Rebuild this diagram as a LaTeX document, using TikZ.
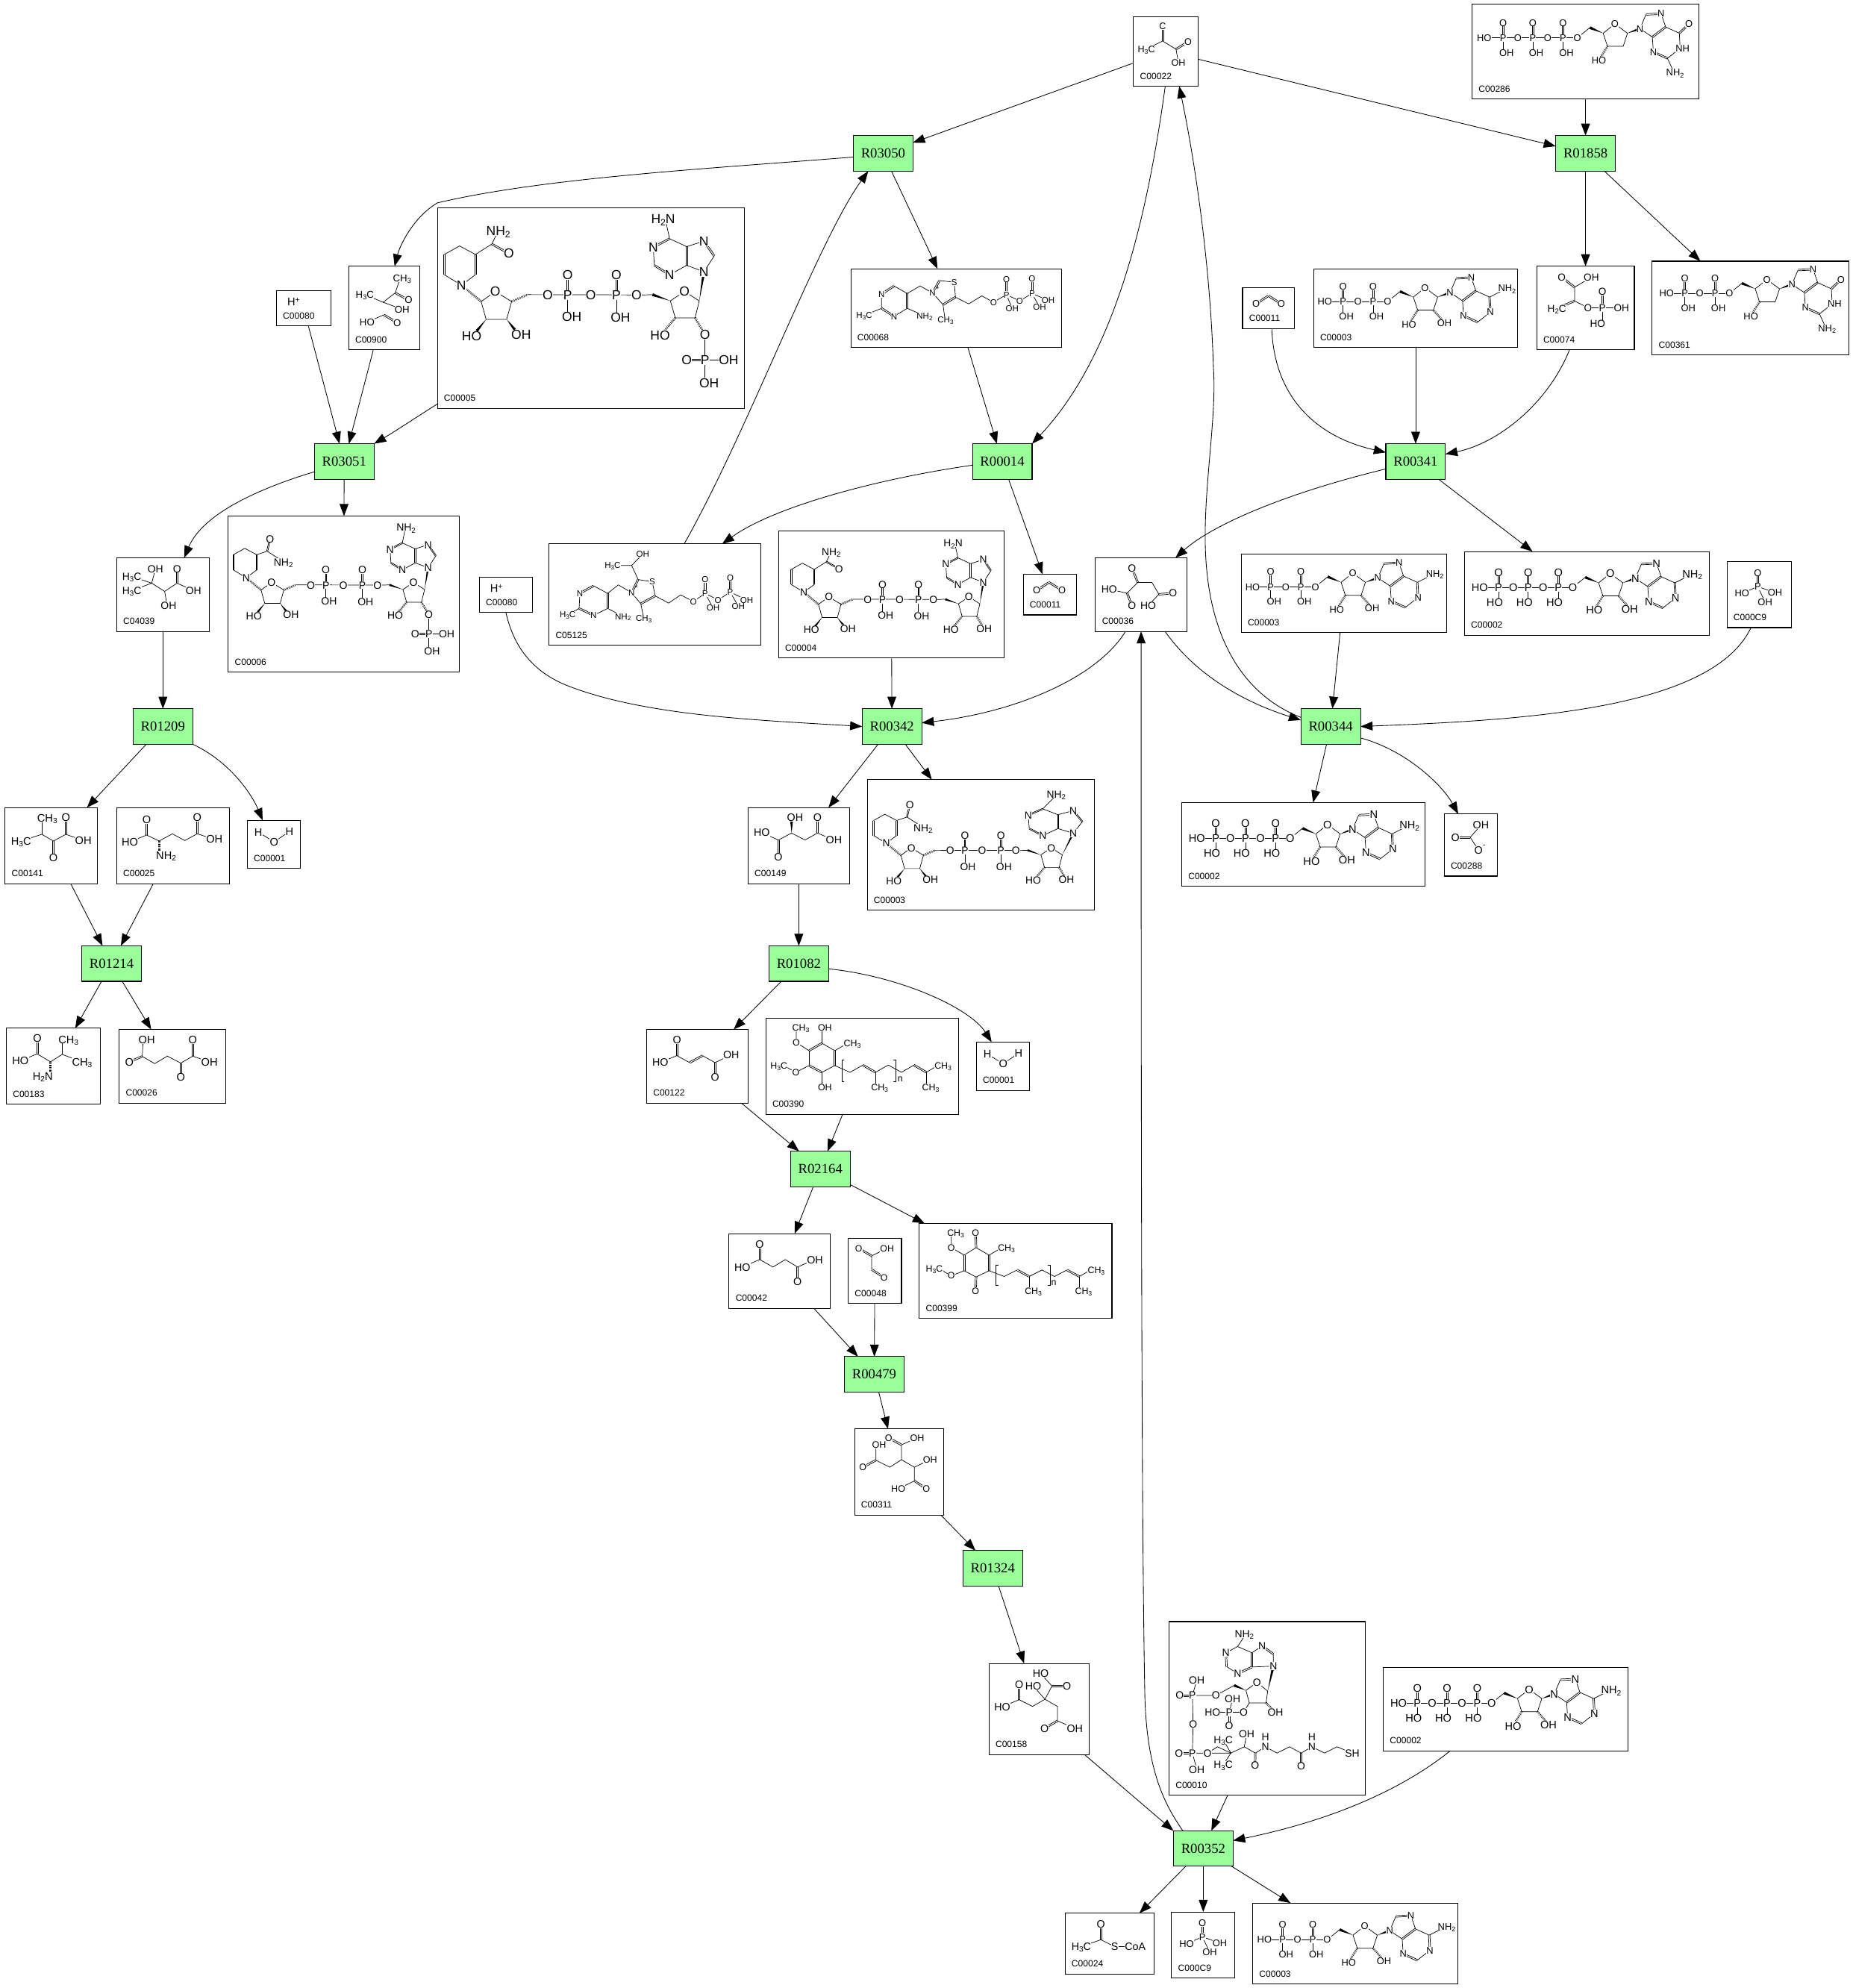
\documentclass[tikz,border=0pt]{standalone}
\usepackage{fontspec}
\usepackage{graphicx}
\setmainfont{Liberation Sans}
\newfontfamily\rxnfont{Liberation Serif}
\usetikzlibrary{arrows.meta}
\definecolor{rxngreen}{RGB}{153,255,153}
\newcount\matmno
\def\afsz{8}
\def\setaf#1{\def\afsz{#1}}
\def\mkx{1}
\def\mky{1}
\newcommand\sbs[1]{\raisebox{-.3ex}{\scalebox{.7}{#1}}}
\newcommand\sps[1]{\raisebox{.55ex}{\scalebox{.7}{#1}}}
\def\matm(#1)#2{\global\advance\matmno by 1 \node[atom] (m\the\matmno) at (#1) {#2};}
\def\moffs#1#2#3#4#5{\pgfmathsetmacro\mdu{(#3-(#1))/\mkx}\pgfmathsetmacro\mdv{(#4-(#2))/\mky}%
 \pgfmathsetmacro\mdl{max(veclen(\mdu,\mdv),.001)}%
 \pgfmathsetmacro\mox{-#5*\mdv/\mdl*\mkx}\pgfmathsetmacro\moy{#5*\mdu/\mdl*\mky}}
\def\mwdg(#1,#2)(#3,#4){\moffs{#1}{#2}{#3}{#4}{1.1}%
 \fill (#1,#2) -- ({#3+\mox},{#4+\moy}) -- ({#3-\mox},{#4-\moy}) -- cycle;}
\def\mhsh(#1)(#2){\draw[line width=1.7pt,dash pattern=on .35pt off .7pt] (#1) -- (#2);}
\def\mdbl(#1,#2)(#3,#4){\moffs{#1}{#2}{#3}{#4}{.6}%
 \draw[bond] ({#1+\mox},{#2+\moy}) -- ({#3+\mox},{#4+\moy});
 \draw[bond] ({#1-\mox},{#2-\moy}) -- ({#3-\mox},{#4-\moy});}
\newcommand\cbox[6]{\node[cpd,minimum width={(#4-#2)*1pt},minimum height={(#5-#3)*1pt}] (#1) at ({(#2+#4)/2},{(#3+#5)/2}) {};
 \node[idlab] (#1id) at ({#2+5},{#5-8}) {#6};}
% ---- nucleoside fragments, O5' at the origin
\def\mRibCore{\draw[bond] (0,0)--(9.8,-8);
 \mwdg(20.3,-3.6)(9.8,-8)
 \draw[bond] (20.3,-3.6)--(29.5,-10.9)--(39.5,-3.6)--(36.1,6.7)--(23.7,6.7)--cycle;
 \mwdg(39.5,-3.6)(49.3,-7.2)}
\def\mRibA{\mRibCore \mhsh(23.7,6.7)(16.9,17.7) \mhsh(36.1,6.7)(44.8,16.6)
 \matm(29.5,-10.9){O} \matm(16.9,18){HO} \matm(44.8,17){OH}}
\def\mRibD{\mRibCore \mhsh(23.7,6.7)(16.9,17.7) \matm(29.5,-10.9){O} \matm(16.9,18){HO}}
\def\mImid{\draw[bond] (49.3,-7.2)--(54.1,-18.4);
 \mdbl(54.1,-18.4)(66,-19)
 \draw[bond] (66,-19)--(69.6,-8.5);
 \draw[bond] (59.1,-.6)--(49.3,-7.2);
 \mdbl(69.6,-8.5)(59.1,-.6)
 \draw[bond] (69.6,-8.5)--(80.4,-3.6);
 \draw[bond] (81,8.3)--(71,16.2);
 \draw[bond] (59.9,11.2)--(59.1,-.6);}
\def\mAde{\mImid
 \draw[bond] (80.4,-3.6)--(94.2,-10.5);
 \mdbl(80.4,-3.6)(81,8.3)
 \mdbl(71,16.2)(59.9,11.2)
 \matm(49.3,-7.2){N} \matm(66,-19){N} \matm(94.2,-10.5){NH\sbs2}
 \matm(81,8.3){N} \matm(59.9,11.2){N}}
\def\mGua{\mImid
 \mdbl(80.4,-3.6)(88,-11)
 \draw[bond] (80.4,-3.6)--(81,8.3);
 \mdbl(71,16.2)(59.9,11.2)
 \draw[bond] (71,16.2)--(76,27);
 \matm(49.3,-7.2){N} \matm(66,-19){N} \matm(88,-11){O}
 \matm(83,8.3){NH} \matm(59.9,11.2){N} \matm(77,27.5){NH\sbs2}}
\def\mPU#1#2#3{\mdbl(#1,0)(#1,-11.9)
 \draw[bond] (#1,0)--(#1,11.7);
 \matm(#1,0){P} \matm(#1,-11.9){O} \matm({#1+#3},11.7){#2}}
\def\mThree#1#2{\draw[bond] (0,0)--(-68,0);
 \mPU{-11.4}{#1}{#2} \matm(-23.4,0){O} \mPU{-35.2}{#1}{#2} \matm(-47,0){O} \mPU{-58.6}{#1}{#2}
 \matm(-73.5,0){HO} \matm(0,0){O}}
\def\mTwo#1#2{\draw[bond] (0,0)--(-45,0);
 \mPU{-11.4}{#1}{#2} \matm(-23.4,0){O} \mPU{-35.2}{#1}{#2}
 \matm(-49.5,0){HO} \matm(0,0){O}}
% ---- NAD family, box-relative
\def\mNADcore{
 \draw[bond] (30,36.7)--(17.4,30)--(5.4,36.7);
 \mdbl(5.4,36.7)(5.4,52.7)
 \draw[bond] (5.4,52.7)--(18.9,60.9)--(30,52.7);
 \mdbl(30,52.7)(30,36.7)
 \mhsh(18.9,60.9)(34.5,73.8)
 \draw[bond] (34.5,73.8)--(45.6,65.9)--(58.5,73.8)--(54.6,87.9)--(38.4,87.9)--cycle;
 \mhsh(58.5,73.8)(71.1,68.4)
 \draw[bond] (71.1,68.4)--(160,68.6);
 \mwdg(38.4,87.9)(31,97)
 \mwdg(54.6,87.9)(61,96)
 \mdbl(102.7,68.8)(102.7,52.7)
 \draw[bond] (102.7,68.8)--(102.7,85.7);
 \mdbl(141.1,68.8)(141.1,52.7)
 \draw[bond] (141.1,68.8)--(141.1,86.2);
 \draw[bond] (157,68.8)--(169.6,68.4);
 \mwdg(183.7,73.3)(169.6,68.4)
 \draw[bond] (183.7,73.3)--(194.8,65.9)--(206.5,73.3)--(203.2,86.7)--(187.6,86.7)--cycle;
 \mhsh(187.6,86.7)(179,97)
 \mhsh(203.2,86.7)(211,99.8)
 \matm(18.9,60.9){N}
 \matm(45.6,65.9){O} \matm(27,101){HO} \matm(66,99.8){OH}
 \matm(87,68.8){O} \matm(102.7,68.8){P} \matm(102.7,52.7){O} \matm(106,85.7){OH}
 \matm(121,68.8){O} \matm(141.1,68.8){P} \matm(141.1,52.7){O} \matm(144.4,86.2){OH}
 \matm(157,68.8){O} \matm(194.8,65.9){O} \matm(175.6,100.3){HO}}
\def\mNADade{
 \mwdg(206.5,73.3)(210.2,50.3)
 \draw[bond] (210.2,50.3)--(218.3,37.9);
 \mdbl(218.3,37.9)(210.2,26.2)
 \draw[bond] (210.2,26.2)--(196.6,30.5);
 \mdbl(196.6,30.5)(196.6,45.3)
 \draw[bond] (196.6,45.3)--(210.2,50.3);
 \draw[bond] (196.6,45.3)--(183.1,52.7);
 \mdbl(183.1,52.7)(171.1,45.3)
 \draw[bond] (171.1,45.3)--(170.2,31);
 \mdbl(170.2,31)(183.1,24.3)
 \draw[bond] (183.1,24.3)--(196.6,30.5);
 \matm(210.2,50.3){N} \matm(210.2,26.2){N} \matm(183.1,52.7){N} \matm(170.2,31){N}}
\def\mNADadeWide{
 \mwdg(206.5,73.3)(218.2,50.3)
 \draw[bond] (218.2,50.3)--(228,37.9);
 \mdbl(228,37.9)(218.2,26.2)
 \draw[bond] (218.2,26.2)--(201.9,30.5);
 \mdbl(201.9,30.5)(201.9,45.3)
 \draw[bond] (201.9,45.3)--(218.2,50.3);
 \draw[bond] (201.9,45.3)--(185.7,52.7);
 \mdbl(185.7,52.7)(171.3,45.3)
 \draw[bond] (171.3,45.3)--(170.2,31);
 \mdbl(170.2,31)(185.7,24.3)
 \draw[bond] (185.7,24.3)--(201.9,30.5);
 \draw[bond] (185.7,24.3)--(198,12);
 \matm(218.2,50.3){N} \matm(218.2,26.2){N} \matm(185.7,52.7){N} \matm(170.2,31){N}
 \matm(200,8.7){NH\sbs2}}
\def\mAmideA{\draw[bond] (30,36.7)--(42.9,28.5)--(48,18);
 \mdbl(42.9,28.5)(56.4,35.9)
 \matm(48,18.1){NH\sbs2} \matm(56.4,35.9){O}}
\def\mAmideB{\draw[bond] (30,36.7)--(41,33)--(58,44);
 \mdbl(41,33)(44,20)
 \matm(58,44.5){NH\sbs2} \matm(44,20){O}}
\def\mOHtwo{\matm(211,99.8){OH}}
\def\mPtwo{\draw[bond] (211,99.8)--(211,137);
 \mdbl(211,120)(196.6,120)
 \draw[bond] (211,120)--(229.7,120);
 \matm(211,99.8){O} \matm(211,120){P} \matm(196.6,120){O} \matm(229.7,120){OH} \matm(214.3,137.9){OH}}
\def\mPi{\mdbl(24.3,19.6)(24.3,8.7)
 \draw[bond] (11.9,25.1)--(24.3,19.6)--(38,24.5);
 \draw[bond] (24.3,19.6)--(30.1,31.8);
 \matm(24.3,8.7){O} \matm(24.3,19.6){P} \matm(11.9,25.1){HO} \matm(38,24.5){OH} \matm(30.1,31.8){OH}}
\def\mWater{\draw[bond] (8.8,9.4)--(21.2,17)--(33.3,8.8);
 \matm(8.8,9.4){H} \matm(21.2,17){O} \matm(33.3,8.8){H}}
\def\mCO{\mdbl(10.6,12.7)(20.4,6.3) \mdbl(20.4,6.3)(30.6,12.7)
 \matm(10.6,12.7){O} \matm(30.6,12.7){O}}
\tikzset{
 bond/.style={draw,line width=.42pt},
 atom/.style={fill=white,inner sep=.15pt,font=\fontsize{\afsz}{\afsz}\selectfont,text height={.72*\afsz pt},text depth=0pt},
 cpd/.style={draw,fill=white,line width=.62pt,inner sep=0pt,outer sep=0pt},
 rxn/.style={draw,fill=rxngreen,line width=.62pt,minimum width=47pt,minimum height=28pt,inner sep=0pt,outer sep=0pt,font=\rxnfont\fontsize{11}{11}\selectfont},
 idlab/.style={anchor=west,inner sep=0pt,font=\fontsize{7.1}{7.1}\selectfont},
 conn/.style={draw,line width=.5pt,-{Triangle[length=9.5pt,width=7pt]}},
 zm/.style n args={4}{shift={(#1/1.6995,#2/1.6995)},xscale={1/(1.6995*#3)},yscale={1/(1.6995*#4)},
   /utils/exec={\pgfmathsetmacro\mkx{1.6995*#3}\pgfmathsetmacro\mky{1.6995*#4}}},
 loc/.style n args={3}{shift={(#1,#2)},scale=#3,transform shape}
}
\begin{document}
\begin{tikzpicture}[x=1pt,y=-1pt]
\useasboundingbox (0,0) rectangle (1461,1568);
% ---------- reactions
\node[rxn] (r3050) at (696.5,121) {R03050};
\node[rxn] (r1858) at (1250.5,121) {R01858};
\node[rxn] (r3051) at (271.5,364) {R03051};
\node[rxn] (r14) at (790.5,364) {R00014};
\node[rxn] (r341) at (1116.5,364) {R00341};
\node[rxn] (r1209) at (128.5,573) {R01209};
\node[rxn] (r342) at (703.5,573) {R00342};
\node[rxn] (r344) at (1049.5,573) {R00344};
\node[rxn] (r1214) at (88,760) {R01214};
\node[rxn] (r1082) at (630,760) {R01082};
\node[rxn] (r2164) at (647,922) {R02164};
\node[rxn] (r479) at (689.5,1084) {R00479};
\node[rxn] (r1324) at (783,1237) {R01324};
\node[rxn] (r352) at (949,1458) {R00352};
% ---------- compound boxes
\cbox{c22}{894}{13}{945}{68}{C00022}
\cbox{c286}{1161}{3}{1340}{78}{C00286}
\cbox{c900}{275}{210}{331}{276}{C00900}
\cbox{c80a}{218}{229}{261}{257}{C00080}
\cbox{c5}{345}{164}{587}{322}{C00005}
\cbox{c68}{671}{212}{837}{274}{C00068}
\cbox{c11a}{980}{227}{1021}{259}{C00011}
\cbox{c3a}{1036}{212}{1197}{274}{C00003}
\cbox{c74}{1212}{210}{1289}{276}{C00074}
\cbox{c361}{1303}{206}{1458}{280}{C00361}
\cbox{c4039}{92}{440}{165}{498}{C04039}
\cbox{c6}{180}{407}{362}{530}{C00006}
\cbox{c5125}{433}{429}{600}{509}{C05125}
\cbox{c80b}{378}{455}{420}{483}{C00080}
\cbox{c4}{614}{419}{792}{519}{C00004}
\cbox{c11b}{807}{453}{849}{485}{C00011}
\cbox{c36}{864}{440}{936}{498}{C00036}
\cbox{c3b}{979}{437}{1141}{499}{C00003}
\cbox{c2a}{1155}{435}{1348}{501}{C00002}
\cbox{c9a}{1362}{443}{1413}{495}{C000C9}
\cbox{c141}{4}{637}{77}{697}{C00141}
\cbox{c25}{92}{637}{181}{697}{C00025}
\cbox{c1a}{195}{647}{237}{685}{C00001}
\cbox{c149}{590}{637}{670}{697}{C00149}
\cbox{c3c}{684}{615}{863}{718}{C00003}
\cbox{c2b}{932}{633}{1124}{699}{C00002}
\cbox{c288}{1139}{642}{1181}{691}{C00288}
\cbox{c183}{5}{811}{79}{871}{C00183}
\cbox{c26}{94}{812}{178}{870}{C00026}
\cbox{c122}{510}{812}{590}{870}{C00122}
\cbox{c390}{604}{803}{756}{879}{C00390}
\cbox{c1b}{770}{822}{812}{860}{C00001}
\cbox{c42}{575}{973}{655}{1032}{C00042}
\cbox{c48}{669}{977}{711}{1028}{C00048}
\cbox{c399}{725}{965}{877}{1040}{C00399}
\cbox{c311}{674}{1127}{744}{1195}{C00311}
\cbox{c158}{780}{1312}{859}{1384}{C00158}
\cbox{c10}{922}{1279}{1077}{1416}{C00010}
\cbox{c2c}{1091}{1315}{1284}{1381}{C00002}
\cbox{c24}{840}{1509}{910}{1557}{C00024}
\cbox{c9b}{924}{1508}{974}{1560}{C000C9}
\cbox{c3d}{988}{1501}{1150}{1565}{C00003}
% ---------- nucleotides
\setaf{7.6}
\begin{scope}[shift={(1244.1,29.8)}] \mRibD \mGua \mThree{OH}{2.7} \end{scope}
\begin{scope}[shift={(1364,231.4)}] \mRibD \mGua \mTwo{OH}{2.7} \end{scope}
\begin{scope}[shift={(1094.4,237.9)}] \mRibA \mAde \mTwo{OH}{2.7} \end{scope}
\begin{scope}[shift={(1037.4,462.9)}] \mRibA \mAde \mTwo{OH}{2.7} \end{scope}
\begin{scope}[shift={(1046.8,1529.9)}] \mRibA \mAde \mTwo{OH}{2.7} \end{scope}
\setaf{8.6}
\begin{scope}[shift={(1240.5,463.3)}] \mRibA \mAde \mThree{HO}{-3} \end{scope}
\begin{scope}[shift={(1017.5,661.3)}] \mRibA \mAde \mThree{HO}{-3} \end{scope}
\begin{scope}[shift={(1176.5,1343.3)}] \mRibA \mAde \mThree{HO}{-3} \end{scope}
% ---------- NAD family
\setaf{10.3}
\begin{scope}[shift={(345,164)}] \mNADcore \mNADade \draw[bond] (183.1,24.3)--(180,10); \mAmideA \mPtwo \matm(178,8.7){H\sbs2N} \end{scope}
\setaf{11}
\begin{scope}[loc={180}{410}{.75}] \mNADcore \mNADade \draw[bond] (183.1,24.3)--(186,10); \mAmideB \mPtwo \matm(187,8){NH\sbs2} \end{scope}
\begin{scope}[loc={620}{422}{.74}] \mNADcore \mNADade \draw[bond] (183.1,24.3)--(180,10); \mAmideA \mOHtwo \matm(178,8.7){H\sbs2N} \end{scope}
\begin{scope}[loc={685}{620}{.74}] \mNADcore \mNADadeWide \mAmideB \mOHtwo \end{scope}
% ---------- small repeated molecules
\setaf{7.6}
\begin{scope}[shift={(924,1508)}] \mPi \end{scope}
\begin{scope}[shift={(1362,443)}] \mPi \end{scope}
\begin{scope}[shift={(980,227)}] \mCO \end{scope}
\begin{scope}[shift={(807,453)}] \mCO \end{scope}
\setaf{8.6}
\matm(231.5,238){H\sps+}
\matm(391.5,464){H\sps+}
\begin{scope}[shift={(195,647)}] \mWater \end{scope}
\begin{scope}[shift={(770,822)}] \mWater \end{scope}
% ---------- C00022, C00074
\begin{scope}[zm={1480}{0}{1.5574}{3}]
 \setaf{7.4}
 \mdbl(122,105)(122,165)
 \draw[bond] (88,198)--(122,165)--(150,198)--(155,252);
 \mdbl(150,198)(175,168)
 \matm(122,105){C} \matm(88,198){H\sbs3C} \matm(175,168){O} \matm(155,252){OH}
 \setaf{8}
 \mdbl(955,1115)(982,1155)
 \draw[bond] (1017,1115)--(982,1155)--(982,1210)--(1010,1238)--(1080,1238);
 \mdbl(982,1210)(945,1240)
 \mdbl(1040,1238)(1040,1172)
 \draw[bond] (1040,1238)--(1040,1302);
 \matm(955,1115){O} \matm(1017,1115){OH} \matm(945,1240){H\sbs2C} \matm(1010,1238){O}
 \matm(1040,1238){P} \matm(1080,1238){OH} \matm(1040,1172){O} \matm(1030,1302){HO}
\end{scope}
% ---------- C00900, C05125
\begin{scope}[zm={340}{260}{1.96}{2.376}]
 \setaf{7.8}
 \draw[bond] (385,268)--(372,315)--(340,345)--(292,320);
 \mdbl(372,315)(407,338)
 \draw[bond] (340,345)--(390,367);
 \draw[bond] (298,408)--(342,385);
 \mdbl(342,385)(377,410)
 \matm(390,268){CH\sbs3} \matm(407,338){O} \matm(292,320){H\sbs3C} \matm(390,367){OH} \matm(298,408){HO} \matm(377,410){O}
 \setaf{6.8}
 \draw[bond] (825,1340)--(855,1320)--(857,1272);
 \mdbl(857,1272)(893,1248)
 \draw[bond] (893,1248)--(930,1272);
 \mdbl(930,1272)(930,1320)
 \draw[bond] (930,1320)--(893,1342);
 \mdbl(893,1342)(855,1320)
 \draw[bond] (930,1320)--(970,1345);
 \draw[bond] (930,1272)--(958,1245)--(993,1270);
 \mdbl(993,1270)(1010,1228)
 \draw[bond] (1010,1228)--(1047,1235)--(1055,1280);
 \mdbl(1055,1280)(1017,1305)
 \draw[bond] (1017,1305)--(993,1270);
 \draw[bond] (1017,1305)--(1025,1352);
 \draw[bond] (1010,1228)--(993,1183)--(943,1183);
 \draw[bond] (993,1183)--(1022,1147);
 \draw[bond] (1055,1280)--(1090,1303)--(1122,1277)--(1155,1298)--(1186,1272)--(1220,1293)--(1252,1268)--(1295,1293);
 \mdbl(1186,1272)(1186,1228)
 \mdbl(1252,1268)(1252,1222)
 \draw[bond] (1186,1272)--(1207,1318);
 \draw[bond] (1252,1268)--(1273,1313);
 \matm(825,1340){H\sbs3C} \matm(857,1272){N} \matm(893,1342){N} \matm(970,1345){NH\sbs2}
 \matm(993,1270){N} \matm(1047,1235){S} \matm(1025,1352){CH\sbs3} \matm(943,1183){H\sbs3C} \matm(1022,1147){OH}
 \matm(1155,1298){O} \matm(1186,1272){P} \matm(1220,1293){O} \matm(1252,1268){P}
 \matm(1186,1228){O} \matm(1252,1222){O} \matm(1207,1318){OH} \matm(1273,1313){OH} \matm(1295,1293){OH}
 \node (plusB) at (1005,1250) {\fontsize{5}{5}\selectfont +};
\end{scope}
% ---------- C00068
\begin{scope}[zm={1130}{350}{3}{3}]
 \setaf{6.8}
 \draw[bond] (85,218)--(155,190)--(155,133);
 \mdbl(155,133)(205,100)
 \draw[bond] (205,100)--(258,130);
 \mdbl(258,130)(258,190)
 \draw[bond] (258,190)--(205,222);
 \mdbl(205,222)(155,190)
 \draw[bond] (258,190)--(328,220);
 \draw[bond] (258,130)--(310,100)--(360,128);
 \mdbl(360,128)(388,78)
 \draw[bond] (388,78)--(447,85)--(452,145);
 \mdbl(452,145)(402,175)
 \draw[bond] (402,175)--(360,128);
 \draw[bond] (402,175)--(410,235);
 \draw[bond] (452,145)--(505,172)--(558,140)--(605,165)--(657,135)--(710,160)--(760,130)--(825,158);
 \mdbl(657,135)(657,72)
 \mdbl(760,130)(760,70)
 \draw[bond] (657,135)--(680,190);
 \draw[bond] (760,130)--(790,185);
 \matm(85,218){H\sbs3C} \matm(155,133){N} \matm(205,222){N} \matm(328,220){NH\sbs2}
 \matm(360,128){N} \matm(447,85){S} \matm(412,235){CH\sbs3}
 \matm(605,165){O} \matm(657,135){P} \matm(710,160){O} \matm(760,130){P}
 \matm(657,72){O} \matm(760,70){O} \matm(680,190){OH} \matm(790,185){OH} \matm(825,158){OH}
 \node (plusA) at (380,107) {\fontsize{5}{5}\selectfont +};
\end{scope}
% ---------- quinol, quinone, succinate, glyoxylate
\begin{scope}[zm={1000}{1340}{3}{3}]
 \setaf{7.3}
 % C00390
 \draw[bond] (305,175)--(357,205);
 \mdbl(357,205)(357,265)
 \draw[bond] (357,265)--(305,292);
 \mdbl(305,292)(253,265)
 \draw[bond] (253,265)--(253,205);
 \mdbl(253,205)(305,175)
 \draw[bond] (202,125)--(202,172)--(253,205);
 \draw[bond] (305,175)--(305,125);
 \draw[bond] (357,205)--(395,183);
 \draw[bond] (160,270)--(200,292)--(253,265);
 \draw[bond] (305,292)--(305,340);
 \draw[bond] (357,265)--(418,292)--(470,263);
 \mdbl(470,263)(520,292)
 \draw[bond] (520,292)--(572,263)--(625,292)--(675,263);
 \mdbl(675,263)(725,292)
 \draw[bond] (725,292)--(770,265);
 \draw[bond] (725,292)--(725,340);
 \draw[bond] (520,292)--(520,340);
 \draw[bond] (395,243)--(385,243)--(385,328)--(395,328);
 \draw[bond] (593,243)--(603,243)--(603,328)--(593,328);
 \matm(220,113){CH\sbs3} \matm(317,113){OH} \matm(202,172){O} \matm(427,175){CH\sbs3}
 \matm(132,265){H\sbs3C} \matm(200,292){O} \matm(317,352){OH}
 \matm(537,352){CH\sbs3} \matm(742,352){CH\sbs3} \matm(792,265){CH\sbs3} \matm(620,315){n}
 % C00399
 \draw[bond] (925,997)--(977,1027);
 \mdbl(977,1027)(977,1090)
 \draw[bond] (977,1090)--(925,1115)--(877,1090);
 \mdbl(877,1090)(877,1027)
 \draw[bond] (877,1027)--(925,997);
 \mdbl(925,997)(923,937)
 \mdbl(925,1115)(923,1172)
 \draw[bond] (825,950)--(825,997)--(877,1027);
 \draw[bond] (977,1027)--(1015,1005);
 \draw[bond] (790,1090)--(825,1110)--(877,1090);
 \draw[bond] (977,1090)--(1038,1113)--(1090,1087);
 \mdbl(1090,1087)(1138,1113)
 \draw[bond] (1138,1113)--(1190,1087)--(1240,1113)--(1290,1087);
 \mdbl(1290,1087)(1340,1113)
 \draw[bond] (1340,1113)--(1385,1087);
 \draw[bond] (1340,1113)--(1340,1160);
 \draw[bond] (1138,1113)--(1138,1160);
 \draw[bond] (1015,1067)--(1005,1067)--(1005,1147)--(1015,1147);
 \draw[bond] (1212,1067)--(1222,1067)--(1222,1147)--(1212,1147);
 \matm(843,937){CH\sbs3} \matm(923,937){O} \matm(825,997){O} \matm(1047,998){CH\sbs3}
 \matm(757,1083){H\sbs3C} \matm(825,1110){O} \matm(923,1172){O}
 \matm(1155,1172){CH\sbs3} \matm(1357,1172){CH\sbs3} \matm(1408,1087){CH\sbs3} \matm(1237,1137){n}
 % C00042
 \setaf{8.4}
 \draw[bond] (-15,1075)--(55,1045)--(108,1075)--(158,1045)--(207,1075)--(277,1045);
 \mdbl(55,1045)(55,983)
 \mdbl(207,1075)(207,1133)
 \matm(-15,1075){HO} \matm(55,983){O} \matm(277,1045){OH} \matm(207,1133){O}
 % C00048
 \setaf{7.2}
 \mdbl(453,1000)(505,1030)
 \draw[bond] (567,1000)--(505,1030)--(505,1085);
 \mdbl(505,1085)(555,1117)
 \matm(453,1000){O} \matm(567,1000){OH} \matm(555,1117){O}
\end{scope}
% ---------- C00141, C00025, C00183, C00026
\begin{scope}[zm={0}{1070}{3}{3}]
 \setaf{8.6}
 \draw[bond] (85,172)--(168,145)--(215,172)--(265,145)--(335,170);
 \draw[bond] (168,145)--(168,85);
 \mdbl(215,172)(215,240)
 \mdbl(265,145)(265,78)
 \matm(190,80){CH\sbs3} \matm(265,78){O} \matm(85,172){H\sbs3C} \matm(335,170){OH} \matm(215,240){O}
 \draw[bond] (522,175)--(590,148)--(640,172)--(693,143)--(743,170)--(793,143)--(862,165);
 \mdbl(590,148)(590,85)
 \mdbl(793,143)(793,78)
 \mhsh(640,172)(640,215)
 \matm(590,85){O} \matm(793,78){O} \matm(522,175){HO} \matm(862,165){OH} \matm(668,230){NH\sbs2}
 \draw[bond] (82,1055)--(150,1028)--(203,1060)--(250,1030)--(330,1060);
 \mdbl(150,1028)(150,965)
 \draw[bond] (250,1030)--(250,975);
 \mhsh(203,1060)(203,1100)
 \matm(150,965){O} \matm(275,970){CH\sbs3} \matm(82,1055){HO} \matm(330,1060){CH\sbs3} \matm(172,1118){H\sbs2N}
 \draw[bond] (575,985)--(572,1038)--(622,1067)--(673,1037)--(727,1065)--(775,1037)--(842,1060);
 \mdbl(572,1038)(520,1060)
 \mdbl(727,1065)(727,1122)
 \mdbl(775,1037)(775,972)
 \matm(590,972){OH} \matm(775,972){O} \matm(520,1060){O} \matm(842,1060){OH} \matm(727,1122){O}
\end{scope}
\begin{scope}[zm={150}{730}{3}{3}]
 \setaf{8.2}
 \draw[bond] (80,128)--(160,155)--(80,185);
 \draw[bond] (160,155)--(175,98);
 \draw[bond] (160,155)--(212,188)--(262,155)--(328,185);
 \draw[bond] (212,188)--(222,245);
 \mdbl(262,155)(262,97)
 \matm(80,128){H\sbs3C} \matm(80,185){H\sbs3C} \matm(175,98){OH} \matm(262,97){O} \matm(328,185){OH} \matm(228,245){OH}
\end{scope}
\begin{scope}[zm={860}{1070}{3}{3}]
 \setaf{8.4}
 \draw[bond] (483,138)--(550,168)--(603,140)--(657,168)--(707,140)--(773,168);
 \mdbl(550,168)(550,235)
 \mdbl(707,140)(707,78)
 \mwdg(603,140)(603,92)
 \matm(483,138){HO} \matm(617,78){OH} \matm(707,78){O} \matm(773,168){OH} \matm(550,235){O}
 \draw[bond] (75,1062)--(142,1035)--(193,1063);
 \mdbl(193,1063)(245,1035)
 \draw[bond] (245,1035)--(295,1063)--(360,1032);
 \mdbl(142,1035)(142,972)
 \mdbl(295,1063)(295,1122)
 \matm(142,972){O} \matm(75,1062){HO} \matm(360,1032){OH} \matm(295,1122){O}
\end{scope}
\begin{scope}[zm={1130}{1900}{3}{3}]
 \setaf{7.4}
 \mdbl(235,110)(183,82)
 \draw[bond] (298,82)--(235,110)--(235,170)--(188,200)--(132,172)--(132,115);
 \mdbl(132,172)(80,200)
 \draw[bond] (235,170)--(287,200)--(350,170);
 \draw[bond] (287,200)--(287,255)--(222,287);
 \mdbl(287,255)(335,287)
 \matm(183,82){O} \matm(298,82){OH} \matm(145,110){OH} \matm(80,200){O} \matm(350,170){OH} \matm(222,287){HO} \matm(335,287){O}
 \setaf{8.4}
 \draw[bond] (640,1163)--(708,1135)--(762,1162)--(812,1133)--(862,1162)--(862,1220)--(932,1250);
 \mdbl(708,1135)(708,1075)
 \mdbl(862,1220)(810,1250)
 \draw[bond] (765,1080)--(812,1133)--(840,1080)--(795,1030);
 \mdbl(840,1080)(900,1080)
 \matm(795,1030){HO} \matm(708,1075){O} \matm(765,1080){HO} \matm(900,1080){O} \matm(640,1163){HO} \matm(810,1250){O} \matm(932,1250){OH}
\end{scope}
\begin{scope}[zm={1440}{740}{3}{3}]
 \setaf{8.2}
 \mdbl(255,122)(232,65)
 \draw[bond] (140,150)--(212,165)--(255,122)--(312,122)--(340,170)--(297,215);
 \mdbl(212,165)(232,215)
 \mdbl(340,170)(397,165)
 \matm(232,65){O} \matm(140,150){HO} \matm(232,215){O} \matm(297,215){HO} \matm(397,165){O}
\end{scope}
\begin{scope}[zm={1420}{2550}{3}{3}]
 \setaf{8.4}
 \mdbl(167,150)(167,87)
 \draw[bond] (88,178)--(167,150)--(222,178)--(305,178);
 \matm(167,87){O} \matm(88,178){H\sbs3C} \matm(222,178){S} \matm(305,178){CoA}
\end{scope}
\begin{scope}[zm={1930}{1080}{3}{3}]
 \setaf{8.4}
 \mdbl(62,127)(122,127)
 \draw[bond] (165,78)--(122,127)--(155,178);
 \matm(62,127){O} \matm(165,78){OH} \matm(155,178){O}
 \node (minusA) at (178,162) {\fontsize{6}{6}\selectfont -};
\end{scope}
% ---------- C00010
\begin{scope}[zm={1540}{2160}{2.23}{2.976}]
 \setaf{8.2}
 \draw[bond] (285,100)--(265,140);
 \draw[bond] (265,140)--(230,165);
 \mdbl(230,165)(232,220)
 \draw[bond] (232,220)--(265,248);
 \mdbl(265,248)(308,222)
 \mdbl(308,222)(308,165)
 \draw[bond] (308,165)--(265,140);
 \draw[bond] (308,165)--(338,138);
 \mdbl(338,138)(372,170)
 \draw[bond] (372,170)--(372,218)--(308,222);
 \mwdg(355,318)(372,218)
 \draw[bond] (290,315)--(323,283)--(355,318)--(350,365)--(300,365)--cycle;
 \mwdg(290,315)(255,295)
 \draw[bond] (255,295)--(200,335)--(130,335)--(132,450)--(130,565)--(245,565);
 \mdbl(130,335)(92,335)
 \draw[bond] (130,335)--(143,275);
 \mdbl(130,565)(90,565)
 \draw[bond] (130,565)--(143,630);
 \draw[bond] (175,565)--(205,540)--(245,565)--(222,512);
 \draw[bond] (245,565)--(222,612);
 \draw[bond] (245,565)--(285,540)--(292,490);
 \draw[bond] (285,540)--(318,565)--(348,540)--(383,565)--(420,540)--(455,565)--(487,540)--(525,565)--(562,540)--(608,565);
 \mdbl(318,565)(317,615)
 \mdbl(455,565)(455,618)
 \draw[bond] (300,365)--(283,402)--(190,402);
 \draw[bond] (240,402)--(250,350);
 \mdbl(240,402)(240,457)
 \mhsh(350,365)(378,402)
 \matm(285,90){NH\sbs2} \matm(230,165){N} \matm(265,248){N} \matm(338,138){N} \matm(372,218){N}
 \matm(323,283){O} \matm(200,335){O} \matm(130,335){P} \matm(92,335){O} \matm(143,275){OH} \matm(132,450){O}
 \matm(130,565){P} \matm(90,565){O} \matm(143,630){OH} \matm(175,565){O}
 \matm(222,512){H\sbs3C} \matm(222,612){H\sbs3C} \matm(292,490){OH} \matm(317,615){O}
 \matm(348,540){N} \matm(348,500){H} \matm(455,618){O} \matm(487,540){N} \matm(487,500){H} \matm(608,565){SH}
 \matm(283,402){O} \matm(240,402){P} \matm(190,402){HO} \matm(250,350){OH} \matm(240,457){O} \matm(378,402){OH}
\end{scope}
% ---------- connectors
\draw[conn] (c22) -- (r3050);
\draw[conn] (c22) -- (r1858);
\draw[conn] (c286) -- (r1858);
\draw[conn] (r1858) -- (c74);
\draw[conn] (r1858) -- (c361);
\draw[conn] (r3050) -- (c68);
\draw[conn] (r3050.187) .. controls (560,133) and (430,140) .. (345,160) .. controls (325,172) and (315,195) .. (c900.76);
\draw[conn] (c900) -- (r3051);
\draw[conn] (c80a) -- (r3051);
\draw[conn] (c5.212) .. controls (330,328) and (312,340) .. (r3051.north east);
\draw[conn] (r3051) -- (c6);
\draw[conn] (r3051.199) .. controls (205,385) and (160,405) .. (c4039.60);
\draw[conn] (c4039) -- (r1209);
\draw[conn] (r1209) -- (c141);
\draw[conn] (r1209.south east) .. controls (180,600) and (198,625) .. (c1a.115);
\draw[conn] (c141) -- (r1214);
\draw[conn] (c25) -- (r1214);
\draw[conn] (r1214) -- (c183.60);
\draw[conn] (r1214) -- (c26.120);
\draw[conn] (c22.-91) .. controls (905,170) and (880,280) .. (r14.north east);
\draw[conn] (c68) -- (r14);
\draw[conn] (r14.187) .. controls (690,378) and (610,400) .. (c5125.37);
\draw[conn] (c5125.60) .. controls (590,340) and (645,190) .. (r3050.230);
\draw[conn] (r14) -- (c11b);
\draw[conn] (c4) -- (r342);
\draw[conn] (c80b.south) .. controls (405,510) and (420,530) .. (448,541) .. controls (510,565) and (600,568) .. (r342.west);
\draw[conn] (c36.247) .. controls (865,535) and (800,562) .. (r342.7);
\draw[conn] (c36.-57) .. controls (945,535) and (985,555) .. (r344.168);
\draw[conn] (r344.163) .. controls (985,550) and (955,510) .. (951,440) .. controls (948,390) and (960,330) .. (957,290) .. controls (955,220) and (945,140) .. (c22.-69);
\draw[conn] (r341.194) .. controls (1010,390) and (955,415) .. (c36.47);
\draw[conn] (c11a.-81) .. controls (1005,315) and (1040,345) .. (r341.163);
\draw[conn] (c3a) -- (r341);
\draw[conn] (c74.249) .. controls (1220,320) and (1180,350) .. (r341.14);
\draw[conn] (r341) -- (c2a);
\draw[conn] (c3b) -- (r344);
\draw[conn] (c9a.256) .. controls (1350,560) and (1200,568) .. (r344.east);
\draw[conn] (r344) -- (c2b);
\draw[conn] (r344.-21) .. controls (1110,592) and (1138,620) .. (c288.112);
\draw[conn] (r342) -- (c149);
\draw[conn] (r342) -- (c3c);
\draw[conn] (c149) -- (r1082);
\draw[conn] (r1082) -- (c122);
\draw[conn] (r1082.-10) .. controls (710,770) and (765,795) .. (c1b.115);
\draw[conn] (c122) -- (r2164);
\draw[conn] (c390) -- (r2164);
\draw[conn] (r2164) -- (c42);
\draw[conn] (r2164) -- (c399);
\draw[conn] (c42) -- (r479);
\draw[conn] (c48) -- (r479);
\draw[conn] (r479) -- (c311);
\draw[conn] (c311) -- (r1324);
\draw[conn] (r1324) -- (c158);
\draw[conn] (c158.-45) -- (r352.north west);
\draw[conn] (c10) -- (r352);
\draw[conn] (c2c.217) .. controls (1095,1420) and (1030,1440) .. (r352.15);
\draw[conn] (r352.139) .. controls (920,1425) and (905,1400) .. (903,1340) .. controls (900,1200) and (900,800) .. (c36.south);
\draw[conn] (r352) -- (c24);
\draw[conn] (r352) -- (c9b);
\draw[conn] (r352) -- (c3d);
\end{tikzpicture}
\end{document}
